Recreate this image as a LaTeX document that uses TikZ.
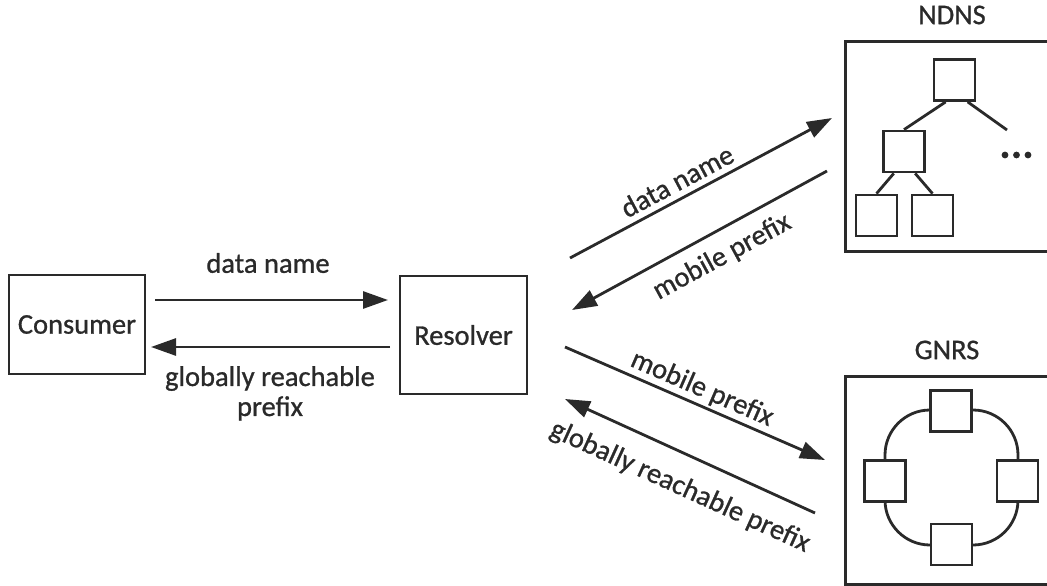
\documentclass[tikz,border=0pt]{standalone}
\usepackage{fontspec}
\setmainfont{Carlito}[FakeBold=0.9]
\usetikzlibrary{arrows.meta}
\definecolor{ink}{HTML}{2A2A2A}
\begin{document}
\begin{tikzpicture}[x=1pt,y=-1pt,
  txt/.style={text=ink,font=\fontsize{28.5}{30}\selectfont,inner sep=0pt},
  box/.style={draw=ink,line width=2.8pt,txt},
  sq/.style={draw=ink,line width=2.8pt,fill=white,minimum size=41pt,inner sep=0pt},
  wire/.style={draw=ink,line width=2.8pt},
  msg/.style={draw=ink,line width=2.8pt,-{Triangle[length=25pt,width=17pt]}},
]
\useasboundingbox (0,0) rectangle (1047,586);

% main actors
\node[box,minimum width=136pt,minimum height=99pt] (consumer) at (77,324.5) {Consumer};
\node[box,minimum width=127pt,minimum height=118pt] (resolver) at (463.5,335) {Resolver};

% name services (boxes run past the right edge)
\node[box,anchor=north west,minimum width=216pt,minimum height=210pt] (ndns) at (844,40) {};
\node[txt] (ndnslbl) at (952,15) {NDNS};
\node[box,anchor=north west,minimum width=216pt,minimum height=208pt] (gnrs) at (844,375) {};
\node[txt] (gnrslbl) at (947,350) {GNRS};

% NDNS: name tree
\node[sq] (root) at (954.5,80) {};
\node[sq] (mid) at (904,151.5) {};
\node[sq] (leafa) at (876.5,215.5) {};
\node[sq] (leafb) at (932.5,215.5) {};
\coordinate (branch) at (1007,130);
\draw[wire] (root.-112) -- (mid.north);
\draw[wire] (root.-59) -- (branch);
\draw[wire] (mid.-115) -- (leafa.north);
\draw[wire] (mid.-63) -- (leafb.north);
\foreach \x in {1005,1016.5,1028} \fill[ink] (\x,155) circle (3.4pt);

% GNRS: ring of servers
\draw[wire,rounded corners=45pt] (885,410) rectangle (1018,545);
\node[sq] (gtop) at (951,411) {};
\node[sq] (gleft) at (885,481) {};
\node[sq] (gright) at (1017.5,481) {};
\node[sq] (gbot) at (951.5,544.5) {};

% message endpoints
\coordinate (c1) at (155,300);  \coordinate (r1) at (388,300);
\coordinate (r2) at (390,347);  \coordinate (c2) at (151,347);
\coordinate (n1s) at (570,258); \coordinate (n1e) at (832,118);
\coordinate (n2s) at (827,171); \coordinate (n2e) at (572,310);
\coordinate (g1s) at (565,347); \coordinate (g1e) at (825,460);
\coordinate (g2s) at (815,513); \coordinate (g2e) at (565,399);

% messages
\draw[msg] (c1) -- (r1);
\draw[msg] (r2) -- (c2);
\draw[msg] (n1s) -- (n1e);
\draw[msg] (n2s) -- (n2e);
\draw[msg] (g1s) -- (g1e);
\draw[msg] (g2s) -- (g2e);

% message labels
\node[txt] (l1) at (268,263) {data name};
\node[txt,align=center,anchor=north] (l2) at (270,366) {globally reachable\\prefix};
\node[txt,rotate=28] (l3) at (677,181) {data name};
\node[txt,rotate=28.5] (l4) at (722,257) {mobile prefix};
\node[txt,rotate=-23.5] (l5) at (702,389) {mobile prefix};
\node[txt,rotate=-24.5] (l6) at (680,487) {globally reachable prefix};
\end{tikzpicture}
\end{document}
